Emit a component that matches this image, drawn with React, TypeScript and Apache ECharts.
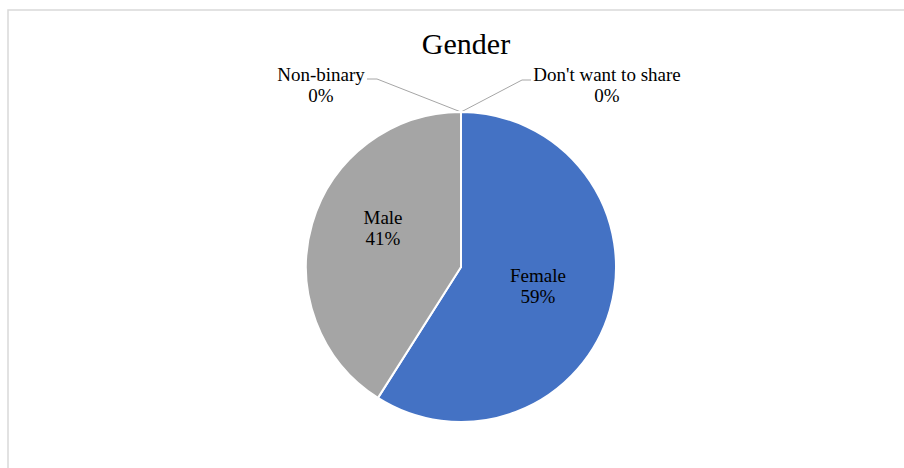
import React, { useEffect, useRef } from "react";
import * as echarts from "echarts";

// Gender breakdown of respondents (percent)
const categories = ["Female", "Male", "Non-binary", "Don't want to share"];
const shares = [59, 41, 0, 0];
const sliceColors = ["#4472C4", "#A5A5A5", "#FFC000", "#5B9BD5"];
const titleText = "Gender";

const FONT = "'Liberation Serif', 'Times New Roman', serif";

export default function App() {
  const ref = useRef<HTMLDivElement>(null);

  useEffect(() => {
    if (!ref.current) return;
    const chart = echarts.init(ref.current, undefined, { renderer: "svg" });

    const cx = 461;
    const cy = 267;
    const r = 155;

    // label anchor points (centre of each two-line label block)
    const labelSpots: Record<number, [number, number]> = {
      0: [538, 286],
      1: [383, 228],
      2: [321, 85],
      3: [607, 85],
    };
    // elbow + end of the leader lines for the outside labels
    const leaderBends: Record<number, [[number, number], [number, number]]> = {
      2: [[377, 79], [367, 79]],
      3: [[522, 80], [531, 80]],
    };

    const data = categories.map((name, i) => {
      const outside = shares[i] === 0;
      return {
        name,
        value: shares[i],
        itemStyle: { color: sliceColors[i] },
        label: { position: outside ? "outside" : "inside" },
        labelLine: { show: outside },
      };
    });

    chart.setOption({
      animation: false,
      backgroundColor: "#ffffff",
      title: {
        text: titleText,
        left: cx,
        textAlign: "center",
        top: 23,
        textStyle: {
          fontFamily: FONT,
          fontSize: 30,
          fontWeight: "normal",
          color: "#000000",
        },
      },
      graphic: [
        {
          type: "rect",
          shape: { x: 8, y: 10, width: 1000, height: 1000 },
          style: { fill: "none", stroke: "#d9d9d9", lineWidth: 1.5 },
          silent: true,
        },
      ],
      series: [
        {
          type: "pie",
          center: [cx, cy],
          radius: [0, r],
          startAngle: 90,
          clockwise: true,
          avoidLabelOverlap: false,
          itemStyle: { borderColor: "#ffffff", borderWidth: 2 },
          label: {
            show: true,
            fontFamily: FONT,
            fontSize: 19,
            lineHeight: 21,
            color: "#000000",
            align: "center",
            formatter: (p: any) => `${p.name}\n${Math.round(p.percent)}%`,
          },
          labelLine: {
            show: true,
            lineStyle: { color: "#a6a6a6", width: 1 },
          },
          labelLayout: (params: any) => {
            const i = params.dataIndex;
            const spot = labelSpots[i];
            const out: any = {
              x: spot[0],
              y: spot[1],
              align: "center",
              verticalAlign: "middle",
            };
            const bend = leaderBends[i];
            if (bend) {
              out.labelLinePoints = [[cx, cy - r], bend[0], bend[1]];
            }
            return out;
          },
          data,
        },
      ],
    });

    return () => chart.dispose();
  }, []);

  return (
    <div
      ref={ref}
      style={{ position: "absolute", left: 0, top: 0, width: 904, height: 468 }}
    />
  );
}
